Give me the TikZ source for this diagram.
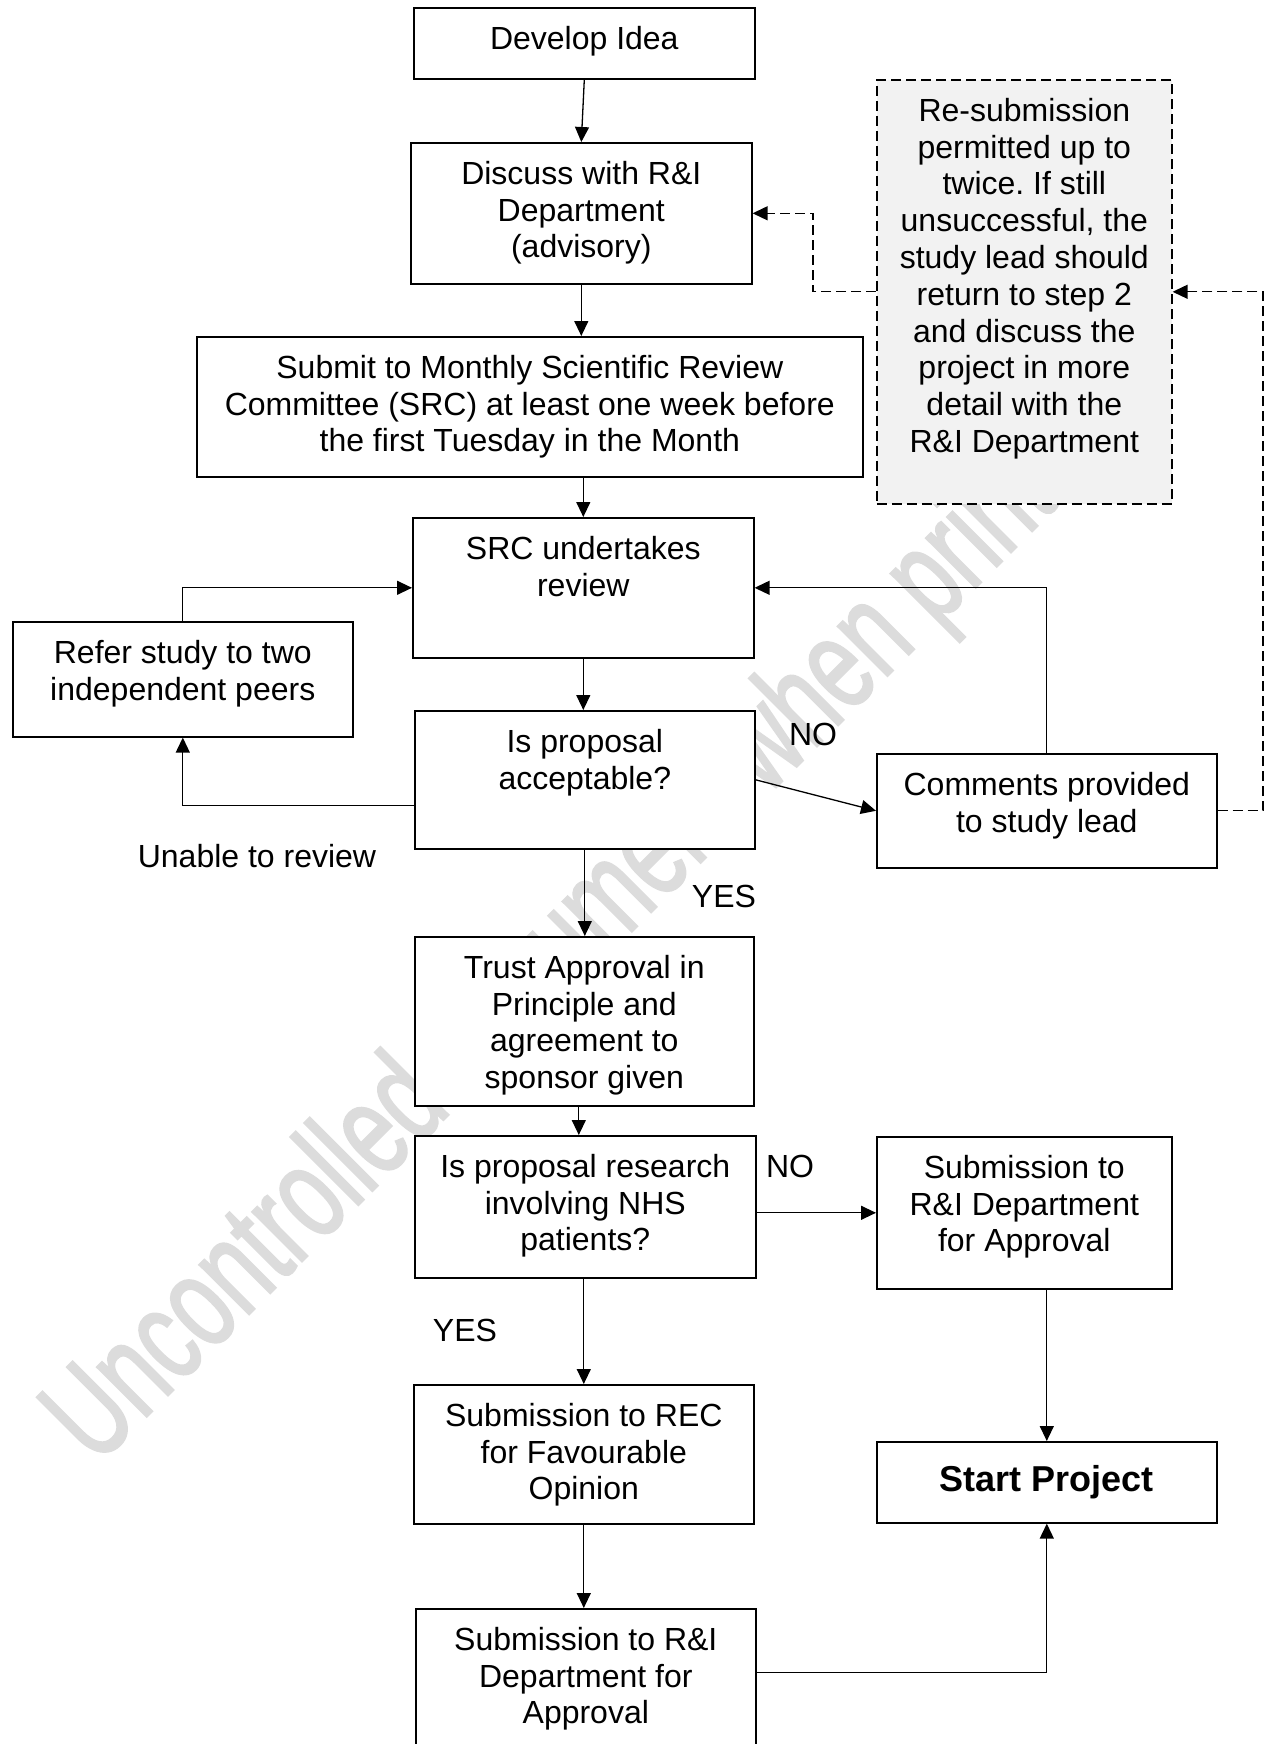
\documentclass[tikz,border=0pt]{standalone}
\usepackage{fontspec}
\setmainfont{Liberation Sans}
\newfontfamily\wmfont[FakeBold=2]{Liberation Sans}
\usetikzlibrary{arrows.meta}
\frenchspacing
\newlength\pxu \setlength\pxu{0.5pt}
\newcommand{\bxt}[3]{\parbox[c][#2\pxu][t]{#1\pxu}{\centering\vspace*{7.9pt}\strut #3\par}}
\definecolor{wmgray}{HTML}{DCDCDC}
\definecolor{notefill}{HTML}{F2F2F2}
\begin{document}
\begin{tikzpicture}[x=0.5pt,y=-0.5pt,
  every node/.style={font=\fontsize{16}{18.4}\selectfont},
  boxst/.style={draw, line width=0.8pt, fill=white, inner sep=0pt, anchor=north west},
  notest/.style={draw, dash pattern=on 5pt off 2.5pt, line width=0.8pt, fill=notefill, inner sep=0pt, anchor=north west},
  conn/.style={line width=0.65pt, -{Triangle[length=7.5pt,width=7pt]}},
  dconn/.style={conn, dash pattern=on 5pt off 2.5pt},
  lbl/.style={inner sep=0pt},
  wmst/.style={inner sep=0pt, text=wmgray, font=\wmfont\fontsize{66}{66}\selectfont}
]
\useasboundingbox (0,0) rectangle (1269,1744);

% watermark
\node[wmst, rotate=45, anchor=base west] (wm) at (96,1467) {\scalebox{0.68}[1]{Uncontrolled document when printed}};

% boxes
\node[boxst] (dev) at (413,7) {\bxt{341}{71}{Develop Idea}};
\node[boxst] (disc) at (410,142) {\bxt{341}{141}{Discuss with R\&I\\Department\\(advisory)}};
\node[boxst] (sub) at (196,336) {\bxt{666}{140}{Submit to Monthly Scientific Review\\Committee (SRC) at least one week before\\the first Tuesday in the Month}};
\node[notest] (resub) at (876,79) {\bxt{295}{424}{Re-submission\\permitted up to\\twice. If still\\unsuccessful, the\\study lead should\\return to step 2\\and discuss the\\project in more\\detail with the\\R\&I Department}};
\node[boxst] (src) at (412,517) {\bxt{341}{140}{SRC undertakes\\review}};
\node[boxst] (refer) at (12,621) {\bxt{340}{115}{Refer study to two\\independent peers}};
\node[boxst] (acc) at (414,710) {\bxt{340}{138}{Is proposal\\acceptable?}};
\node[boxst] (comm) at (876,753) {\bxt{340}{114}{Comments provided\\to study lead}};
\node[boxst] (trust) at (414,936) {\bxt{339}{169}{Trust Approval in\\Principle and\\agreement to\\sponsor given}};
\node[boxst] (nhs) at (414,1135) {\bxt{341}{142}{Is proposal research\\involving NHS\\patients?}};
\node[boxst] (rdept) at (876,1136) {\bxt{295}{152}{Submission to\\R\&I Department\\for Approval}};
\node[boxst] (rec) at (413,1384) {\bxt{340}{139}{Submission to REC\\for Favourable\\Opinion}};
\node[boxst] (start) at (876,1441) {\parbox[c][81\pxu][c]{340\pxu}{\centering\fontsize{18}{20}\selectfont\bfseries Start Project}};
\node[boxst] (final) at (415,1608) {\bxt{340}{140}{Submission to R\&I\\Department for\\Approval}};

% helper coordinates
\coordinate (rr) at (1263,0);
\coordinate (lc) at (813,0);

% connectors
\draw[conn] (dev.south) -- (disc.north);
\draw[conn] (disc.south) -- (disc.south |- sub.north);
\draw[conn] (sub.south -| src.north) -- (src.north);
\draw[conn] (src.south) -- (src.south |- acc.north);
\draw[conn] (acc.south) -- (acc.south |- trust.north);
\draw[conn] ([xshift=-2.75pt]trust.south) -- ([xshift=-2.75pt]trust.south |- nhs.north);
\draw[conn] (nhs.south -| rec.north) -- (rec.north);
\draw[conn] (rec.south) -- (rec.south |- final.north);
\draw[conn] ([yshift=-13pt]acc.west) -| (refer.south);
\draw[conn] (refer.north) |- (src.west);
\draw[conn] (acc.east) -- (comm.west);
\draw[conn] (comm.north) |- (src.east);
\draw[dconn] (comm.east) -- (comm.east -| rr) |- (resub.east);
\draw[dconn] (resub.west) -- (resub.west -| lc) |- (disc.east);
\draw[conn] (rdept.west -| nhs.east) -- (rdept.west);
\draw[conn] (start.north |- rdept.south) -- (start.north);
\draw[conn] ([yshift=3pt]final.east) -| (start.south);

% labels
\node[lbl] (unable) at (257,856) {Unable to review};
\node[lbl] (no1) at (813,734) {NO};
\node[lbl] (yes1) at (724,896) {YES};
\node[lbl] (no2) at (790,1166) {NO};
\node[lbl] (yes2) at (465,1330) {YES};
\end{tikzpicture}
\end{document}
